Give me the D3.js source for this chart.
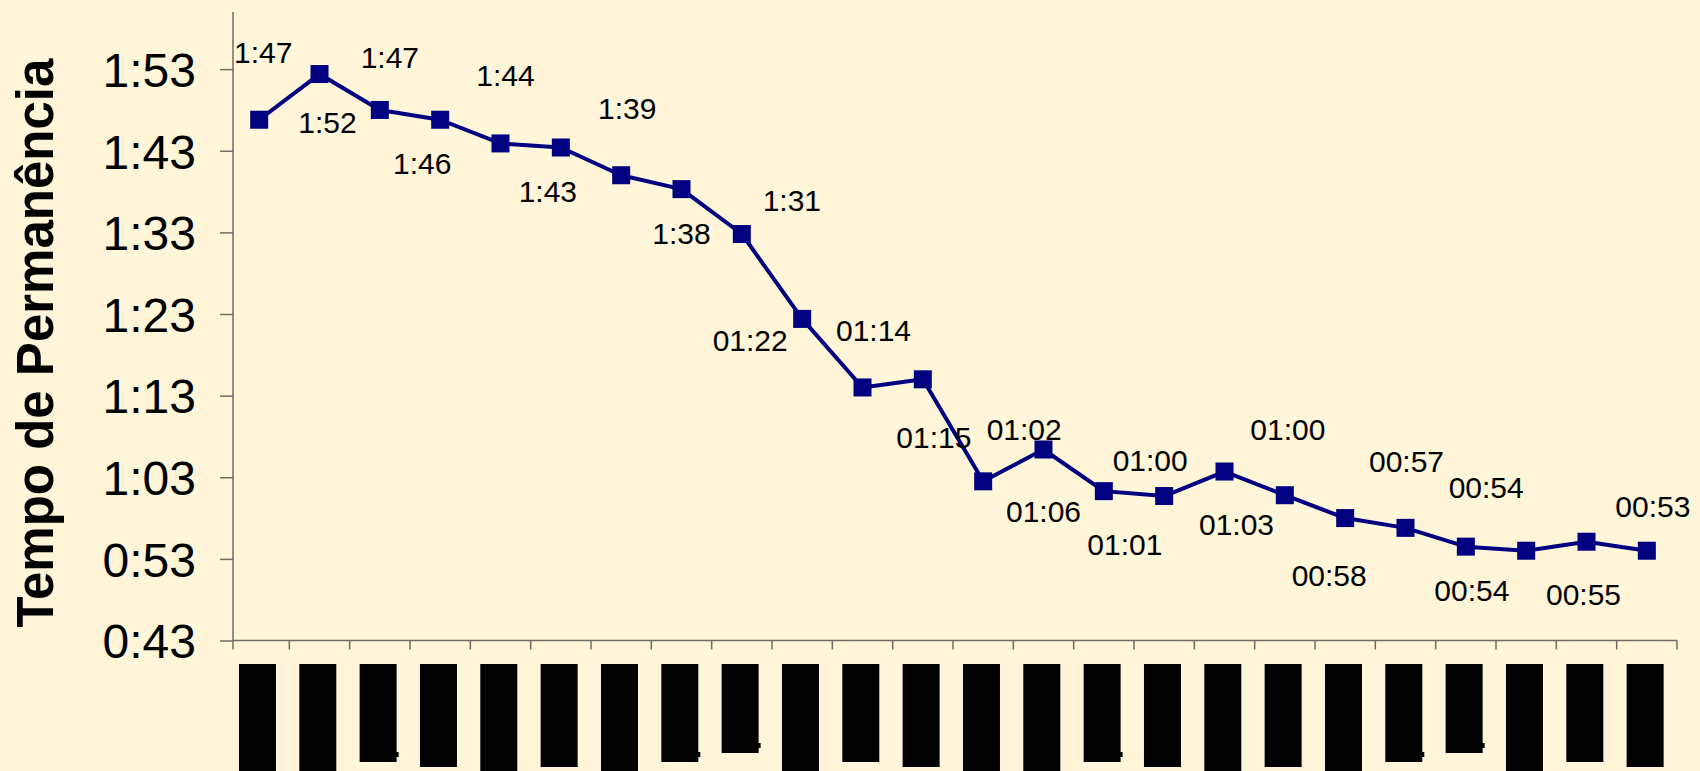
<!DOCTYPE html>
<html>
<head>
<meta charset="utf-8">
<script src="https://cdn.jsdelivr.net/npm/d3@7"></script>
<style>
  html, body { margin: 0; padding: 0; background: #FFF5D9; }
  svg { display: block; }
</style>
</head>
<body>
<svg id="chart" width="1700" height="771"></svg>
<script>
// ---- data ----
const categories = ["c01","c02","c03","c04","c05","c06","c07","c08","c09","c10","c11","c12",
                    "c13","c14","c15","c16","c17","c18","c19","c20","c21","c22","c23","c24"];
// time on site, in seconds
const seconds = [106.8,112.4,108.0,106.8,103.9,103.4,100.0,98.3,92.8,82.4,74.0,75.0,
                 62.5,66.4,61.3,60.7,63.7,60.8,58.0,56.8,54.5,54.0,55.1,54.0];
const pointLabels = ["1:47","1:52","1:47","1:46","1:44","1:43","1:39","1:38","1:31","01:22","01:14","01:15",
                     "01:02","01:06","01:01","01:00","01:03","01:00","00:58","00:57","00:54","00:54","00:55","00:53"];
const yTickValues = [43,53,63,73,83,93,103,113];
const yTitle = "Tempo de Permanência";
// redacted category labels: relative length of each black block
const blockLength = [120,120,98,103,120,103,120,98,89,120,98,103,
                     120,120,98,103,120,103,120,98,89,120,98,103];
const blockNotch = [0,0,1,0,0,0,0,1,1,0,0,0, 0,0,1,0,0,0,0,1,1,0,0,0];

// ---- layout ----
const labelOffsets = [[4,-67],[8,48],[10,-53],[-18,44],[5,-68],[-13,44],[6,-67],[0,44],[50,-34],[-52,21],[11,-57],[11,58],
                      [41,-52],[0,62],[21,53],[-14,-36],[12,53],[3,-66],[-16,57],[1,-67],[6,44],[-40,-63],[-3,53],[6,-44]];

const svg = d3.select("#chart");
svg.append("rect").attr("width",1700).attr("height",771).attr("fill","#FFF5D9");

const axisX = 233, plotRight = 1677, plotBottom = 640.5, plotTop = 12;
const x = d3.scaleBand().domain(categories).range([229, plotRight]).padding(0);
const y = d3.scaleLinear().domain([43,120]).range([plotBottom, plotTop]);
const fmt = s => Math.floor(s/60) + ":" + String(Math.round(s%60)).padStart(2,"0");

const axisColor = "#6E6E64";

// y axis
const yAxis = d3.axisLeft(y).tickValues(yTickValues).tickFormat(fmt).tickSize(13).tickPadding(24);
const gy = svg.append("g").attr("transform",`translate(${axisX},0)`).call(yAxis);
gy.select(".domain").remove();
gy.selectAll(".tick line").attr("stroke",axisColor).attr("stroke-width",1.5);
gy.selectAll(".tick text").attr("font-family","'Liberation Sans', Arial, sans-serif")
  .attr("font-size",48).attr("fill","#000").attr("dy","0.36em");
svg.append("line").attr("x1",axisX).attr("x2",axisX).attr("y1",plotTop).attr("y2",plotBottom)
  .attr("stroke",axisColor).attr("stroke-width",1.5);

// x axis line & boundary ticks
svg.append("line").attr("x1",axisX).attr("x2",plotRight).attr("y1",plotBottom).attr("y2",plotBottom)
  .attr("stroke",axisColor).attr("stroke-width",1.5);
svg.append("g").selectAll("line").data(categories).join("line")
  .attr("x1",(d,i) => i===0 ? axisX : x(d)).attr("x2",(d,i) => i===0 ? axisX : x(d))
  .attr("y1",plotBottom).attr("y2",plotBottom+9).attr("stroke",axisColor).attr("stroke-width",1.5);
svg.append("line").attr("x1",plotRight).attr("x2",plotRight).attr("y1",plotBottom).attr("y2",plotBottom+9)
  .attr("stroke",axisColor).attr("stroke-width",1.5);

// redacted category label blocks
const blockW = 37, blockTop = 664;
const gb = svg.append("g");
categories.forEach((c,i) => {
  const cx = x(c) + x.bandwidth()/2 - 1.7;
  gb.append("rect").attr("x",cx - blockW/2).attr("y",blockTop).attr("width",blockW)
    .attr("height",blockLength[i]).attr("fill","#000");
  if (blockNotch[i]) {
    gb.append("rect").attr("x",cx + blockW/2 - 2).attr("y",blockTop + blockLength[i] - 10)
      .attr("width",4).attr("height",5).attr("fill","#000");
  }
});

// line
const px = c => x(c) + x.bandwidth()/2;
const line = d3.line().x((d,i) => px(categories[i])).y(d => y(d));
svg.append("path").datum(seconds).attr("d",line).attr("fill","none")
  .attr("stroke","#000080").attr("stroke-width",4).attr("stroke-linejoin","round");

// markers
const ms = 18;
svg.append("g").selectAll("rect").data(seconds).join("rect")
  .attr("x",(d,i) => px(categories[i]) - ms/2).attr("y",d => y(d) - ms/2)
  .attr("width",ms).attr("height",ms).attr("fill","#000080");

// value labels
const lfs = 30;
svg.append("g").selectAll("text").data(seconds).join("text")
  .attr("x",(d,i) => px(categories[i]) + labelOffsets[i][0])
  .attr("y",(d,i) => y(d) + labelOffsets[i][1] + 0.358*lfs)
  .attr("text-anchor","middle")
  .attr("font-family","'Liberation Sans', Arial, sans-serif").attr("font-size",lfs).attr("fill","#000")
  .text((d,i) => pointLabels[i]);

// y title
svg.append("text").attr("transform","translate(53,343) rotate(-90)")
  .attr("text-anchor","middle").attr("font-family","'Liberation Sans', Arial, sans-serif")
  .attr("font-weight","bold").attr("font-size",51).attr("fill","#000").text(yTitle);
</script>
</body>
</html>
